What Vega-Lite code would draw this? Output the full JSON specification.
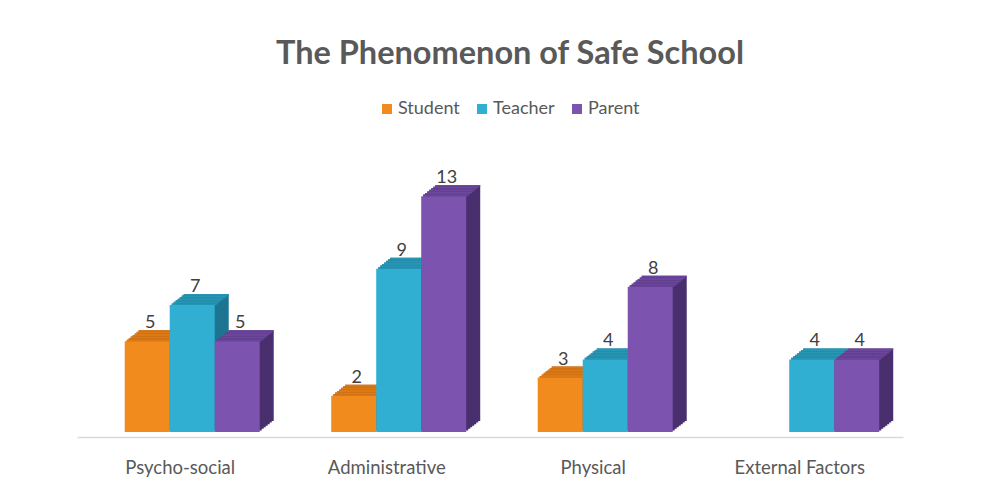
{
  "$schema": "https://vega.github.io/schema/vega-lite/v6.json",
  "autosize": "none",
  "width": 826,
  "height": 254,
  "padding": {"left": 77, "top": 178, "right": 94, "bottom": 58},
  "background": "white",
  "config": {"view": {"stroke": null}, "font": "Lato"},
  "title": {
    "text": "The Phenomenon of Safe School",
    "fontSize": 32.5,
    "font": "Lato",
    "fontWeight": "bold",
    "color": "#595959",
    "anchor": "middle",
    "frame": "group",
    "offset": 30,
    "dx": 20
  },
  "data": {
    "values": [
      {"category": "Psycho-social", "series": "Student", "value": 5},
      {"category": "Psycho-social", "series": "Teacher", "value": 7},
      {"category": "Psycho-social", "series": "Parent", "value": 5},
      {"category": "Administrative", "series": "Student", "value": 2},
      {"category": "Administrative", "series": "Teacher", "value": 9},
      {"category": "Administrative", "series": "Parent", "value": 13},
      {"category": "Physical", "series": "Student", "value": 3},
      {"category": "Physical", "series": "Teacher", "value": 4},
      {"category": "Physical", "series": "Parent", "value": 8},
      {"category": "External Factors", "series": "Teacher", "value": 4},
      {"category": "External Factors", "series": "Parent", "value": 4}
    ]
  },
  "encoding": {
    "x": {
      "field": "category",
      "type": "nominal",
      "sort": ["Psycho-social", "Administrative", "Physical", "External Factors"],
      "scale": {"paddingInner": 0.346, "paddingOuter": 0.173},
      "axis": {
        "title": null,
        "labelAngle": 0,
        "ticks": false,
        "domainColor": "#d9d9d9",
        "domainWidth": 1.5,
        "labelFont": "Lato",
        "labelFontSize": 18.5,
        "labelColor": "#595959",
        "labelPadding": 21,
        "offset": 5
      }
    },
    "y": {
      "field": "value",
      "type": "quantitative",
      "scale": {"domain": [0, 14], "nice": false},
      "axis": null
    }
  },
  "layer": [
    {"mark": {"type": "bar", "yOffset": -11, "y2Offset": -11},
     "encoding": {"xOffset": {"field": "series", "type": "nominal", "sort": ["Student", "Teacher", "Parent"], "scale": {"range": [26, 161], "paddingInner": 0, "paddingOuter": 0}},
       "color": {"field": "series", "type": "nominal", "legend": null, "scale": {"domain": ["Student", "Teacher", "Parent"], "range": ["#a85a10", "#1d7590", "#4a2f6e"]}}}},
    {"mark": {"type": "bar", "yOffset": -9.43, "y2Offset": -9.43},
     "encoding": {"xOffset": {"field": "series", "type": "nominal", "sort": ["Student", "Teacher", "Parent"], "scale": {"range": [24, 159], "paddingInner": 0, "paddingOuter": 0}},
       "color": {"field": "series", "type": "nominal", "legend": null, "scale": {"domain": ["Student", "Teacher", "Parent"], "range": ["#a85a10", "#1d7590", "#4a2f6e"]}}}},
    {"mark": {"type": "bar", "yOffset": -7.86, "y2Offset": -7.86},
     "encoding": {"xOffset": {"field": "series", "type": "nominal", "sort": ["Student", "Teacher", "Parent"], "scale": {"range": [22, 157], "paddingInner": 0, "paddingOuter": 0}},
       "color": {"field": "series", "type": "nominal", "legend": null, "scale": {"domain": ["Student", "Teacher", "Parent"], "range": ["#a85a10", "#1d7590", "#4a2f6e"]}}}},
    {"mark": {"type": "bar", "yOffset": -6.29, "y2Offset": -6.29},
     "encoding": {"xOffset": {"field": "series", "type": "nominal", "sort": ["Student", "Teacher", "Parent"], "scale": {"range": [20, 155], "paddingInner": 0, "paddingOuter": 0}},
       "color": {"field": "series", "type": "nominal", "legend": null, "scale": {"domain": ["Student", "Teacher", "Parent"], "range": ["#a85a10", "#1d7590", "#4a2f6e"]}}}},
    {"mark": {"type": "bar", "yOffset": -4.71, "y2Offset": -4.71},
     "encoding": {"xOffset": {"field": "series", "type": "nominal", "sort": ["Student", "Teacher", "Parent"], "scale": {"range": [18, 153], "paddingInner": 0, "paddingOuter": 0}},
       "color": {"field": "series", "type": "nominal", "legend": null, "scale": {"domain": ["Student", "Teacher", "Parent"], "range": ["#a85a10", "#1d7590", "#4a2f6e"]}}}},
    {"mark": {"type": "bar", "yOffset": -3.14, "y2Offset": -3.14},
     "encoding": {"xOffset": {"field": "series", "type": "nominal", "sort": ["Student", "Teacher", "Parent"], "scale": {"range": [16, 151], "paddingInner": 0, "paddingOuter": 0}},
       "color": {"field": "series", "type": "nominal", "legend": null, "scale": {"domain": ["Student", "Teacher", "Parent"], "range": ["#a85a10", "#1d7590", "#4a2f6e"]}}}},
    {"mark": {"type": "bar", "yOffset": -1.57, "y2Offset": -1.57},
     "encoding": {"xOffset": {"field": "series", "type": "nominal", "sort": ["Student", "Teacher", "Parent"], "scale": {"range": [14, 149], "paddingInner": 0, "paddingOuter": 0}},
       "color": {"field": "series", "type": "nominal", "legend": null, "scale": {"domain": ["Student", "Teacher", "Parent"], "range": ["#a85a10", "#1d7590", "#4a2f6e"]}}}},

    {"mark": {"type": "bar", "yOffset": -11, "y2Offset": -9.43},
     "encoding": {"y2": {"field": "value"}, "xOffset": {"field": "series", "type": "nominal", "sort": ["Student", "Teacher", "Parent"], "scale": {"range": [26, 161], "paddingInner": 0, "paddingOuter": 0}},
       "color": {"field": "series", "type": "nominal", "legend": null, "scale": {"domain": ["Student", "Teacher", "Parent"], "range": ["#dd7a16", "#2796b4", "#6b469c"]}}}},
    {"mark": {"type": "bar", "yOffset": -9.43, "y2Offset": -7.86},
     "encoding": {"y2": {"field": "value"}, "xOffset": {"field": "series", "type": "nominal", "sort": ["Student", "Teacher", "Parent"], "scale": {"range": [24, 159], "paddingInner": 0, "paddingOuter": 0}},
       "color": {"field": "series", "type": "nominal", "legend": null, "scale": {"domain": ["Student", "Teacher", "Parent"], "range": ["#dd7a16", "#2796b4", "#6b469c"]}}}},
    {"mark": {"type": "bar", "yOffset": -7.86, "y2Offset": -6.29},
     "encoding": {"y2": {"field": "value"}, "xOffset": {"field": "series", "type": "nominal", "sort": ["Student", "Teacher", "Parent"], "scale": {"range": [22, 157], "paddingInner": 0, "paddingOuter": 0}},
       "color": {"field": "series", "type": "nominal", "legend": null, "scale": {"domain": ["Student", "Teacher", "Parent"], "range": ["#dd7a16", "#2796b4", "#6b469c"]}}}},
    {"mark": {"type": "bar", "yOffset": -6.29, "y2Offset": -4.71},
     "encoding": {"y2": {"field": "value"}, "xOffset": {"field": "series", "type": "nominal", "sort": ["Student", "Teacher", "Parent"], "scale": {"range": [20, 155], "paddingInner": 0, "paddingOuter": 0}},
       "color": {"field": "series", "type": "nominal", "legend": null, "scale": {"domain": ["Student", "Teacher", "Parent"], "range": ["#dd7a16", "#2796b4", "#6b469c"]}}}},
    {"mark": {"type": "bar", "yOffset": -4.71, "y2Offset": -3.14},
     "encoding": {"y2": {"field": "value"}, "xOffset": {"field": "series", "type": "nominal", "sort": ["Student", "Teacher", "Parent"], "scale": {"range": [18, 153], "paddingInner": 0, "paddingOuter": 0}},
       "color": {"field": "series", "type": "nominal", "legend": null, "scale": {"domain": ["Student", "Teacher", "Parent"], "range": ["#dd7a16", "#2796b4", "#6b469c"]}}}},
    {"mark": {"type": "bar", "yOffset": -3.14, "y2Offset": -1.57},
     "encoding": {"y2": {"field": "value"}, "xOffset": {"field": "series", "type": "nominal", "sort": ["Student", "Teacher", "Parent"], "scale": {"range": [16, 151], "paddingInner": 0, "paddingOuter": 0}},
       "color": {"field": "series", "type": "nominal", "legend": null, "scale": {"domain": ["Student", "Teacher", "Parent"], "range": ["#dd7a16", "#2796b4", "#6b469c"]}}}},
    {"mark": {"type": "bar", "yOffset": -1.57, "y2Offset": 0},
     "encoding": {"y2": {"field": "value"}, "xOffset": {"field": "series", "type": "nominal", "sort": ["Student", "Teacher", "Parent"], "scale": {"range": [14, 149], "paddingInner": 0, "paddingOuter": 0}},
       "color": {"field": "series", "type": "nominal", "legend": null, "scale": {"domain": ["Student", "Teacher", "Parent"], "range": ["#dd7a16", "#2796b4", "#6b469c"]}}}},

    {
      "mark": {"type": "bar"},
      "encoding": {
        "xOffset": {"field": "series", "type": "nominal", "sort": ["Student", "Teacher", "Parent"], "scale": {"range": [12, 147], "paddingInner": 0, "paddingOuter": 0}},
        "color": {"field": "series", "type": "nominal",
        "scale": {"domain": ["Student", "Teacher", "Parent"], "range": ["#f28b1e", "#30afd2", "#7c53ae"]},
        "legend": {
          "title": null,
          "orient": "none",
          "legendX": 301,
          "legendY": -78,
          "direction": "horizontal",
          "symbolType": "square",
          "symbolSize": 100,
          "symbolStrokeWidth": 0,
          "labelFont": "Lato",
          "labelFontSize": 18,
          "labelColor": "#595959",
          "columnPadding": 13,
          "labelOffset": 2
        }}}
    },
    {
      "mark": {"type": "text", "dx": 3, "dy": -9, "baseline": "bottom", "align": "center", "fontSize": 18, "color": "#404040", "font": "Lato"},
      "encoding": {
        "xOffset": {"field": "series", "type": "nominal", "sort": ["Student", "Teacher", "Parent"], "scale": {"type": "point", "range": [34.5, 124.5], "padding": 0}},
        "text": {"field": "value", "type": "quantitative"}}
    }
  ],
  "resolve": {"scale": {"color": "independent", "xOffset": "independent"}}
}
